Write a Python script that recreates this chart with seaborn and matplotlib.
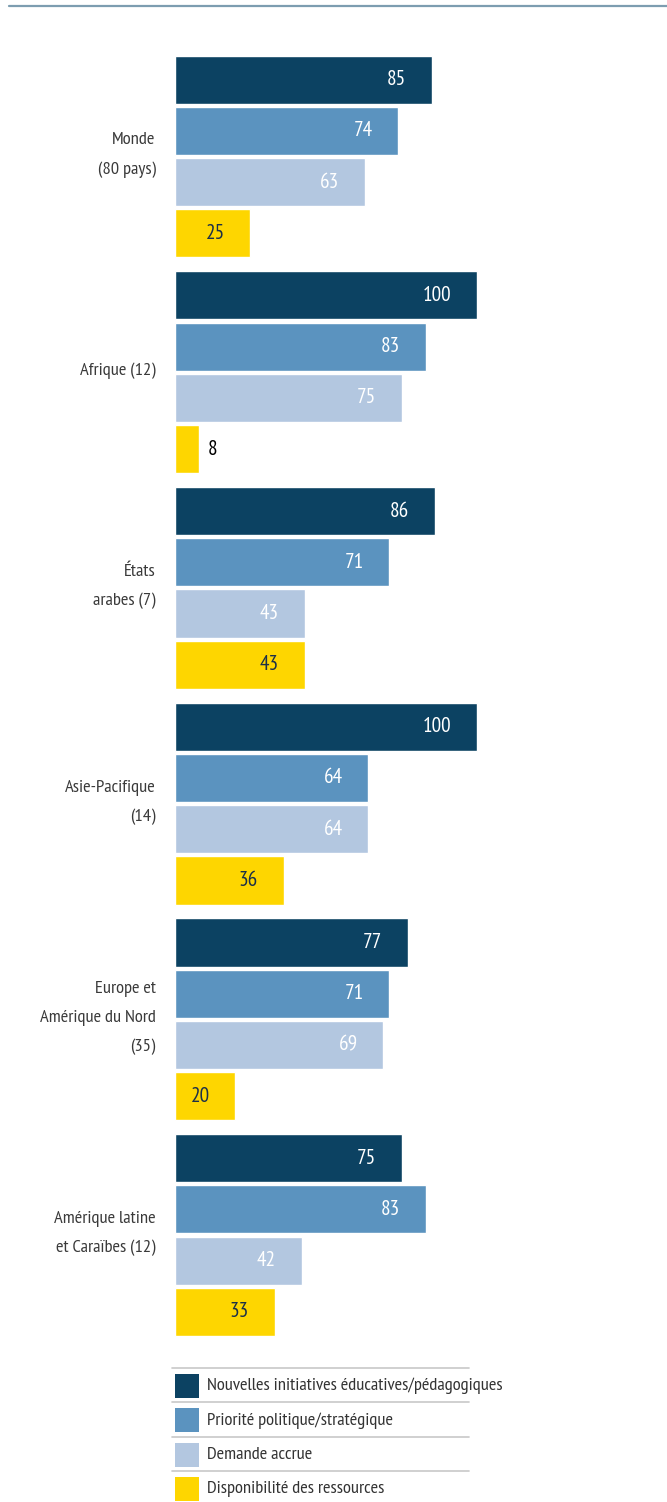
import matplotlib
matplotlib.use("Agg")
import matplotlib.pyplot as plt
from matplotlib.patches import Rectangle
from matplotlib.lines import Line2D
import numpy as np
import pandas as pd
import seaborn as sns

regions = [
    "Monde\n(80 pays)",
    "Afrique (12)",
    "États\narabes (7)",
    "Asie-Pacifique\n(14)",
    "Europe et\nAmérique du Nord\n(35)",
    "Amérique latine\net Caraïbes (12)",
]
factors = [
    "Nouvelles initiatives éducatives/pédagogiques",
    "Priorité politique/stratégique",
    "Demande accrue",
    "Disponibilité des ressources",
]
nouvelles = [85, 100, 86, 100, 77, 75]
priorite = [74, 83, 71, 64, 71, 83]
demande = [63, 75, 43, 64, 69, 42]
ressources = [25, 8, 43, 36, 20, 33]

colors = ["#0c4262", "#5b93bf", "#b3c7e0", "#fed600"]
label_colors = ["white", "white", "white", "#1c3048"]

sns.set_theme(style="white")
plt.rcParams["font.family"] = ["PT Sans Narrow", "DejaVu Sans"]
FS = 13.3      # category and legend text
FS_VAL = 15.3  # value labels on the bars

df = pd.DataFrame({
    "region": np.repeat(regions, 4),
    "factor": factors * len(regions),
    "value": np.ravel(np.column_stack([nouvelles, priorite, demande, ressources])),
})

W, H = 667, 1502
fig = plt.figure(figsize=(W / 100, H / 100), dpi=100)

# plot frame in pixels: bars start at x=175, span y 40..1350
left_px, top_px, bot_px = 175, 40, 1350
ax = fig.add_axes([left_px / W, 1 - bot_px / H, (W - left_px) / W, (bot_px - top_px) / H])

sns.barplot(data=df, y="region", x="value", hue="factor", hue_order=factors,
            order=regions, palette=colors, orient="h", width=0.95, gap=0.06,
            saturation=1, legend=False, ax=ax)

px_per_unit = 302 / 100
ax.set_xlim(0, (W - left_px) / px_per_unit)
g0, pitch = 156.5, 215.7
ax.set_ylim((bot_px - g0) / pitch, (top_px - g0) / pitch)
ax.set_xlabel("")
ax.set_ylabel("")
ax.set_xticks([])
ax.set_yticks([])
for s in ax.spines.values():
    s.set_visible(False)

# region names, right-aligned to the left of the bars
for i, name in enumerate(regions):
    ax.annotate(name, (0, i), xytext=(-14, 1), textcoords="offset points",
                ha="right", va="center", multialignment="right",
                fontsize=FS, color="#3a3a3a", linespacing=2.05)

for i, cont in enumerate(ax.containers):
    for bar in cont:
        w = bar.get_width()
        yc = bar.get_y() + bar.get_height() / 2
        if w < 12:
            ax.annotate(f"{w:.0f}", (w, yc), xytext=(6, 0), textcoords="offset points",
                        ha="left", va="center", fontsize=FS_VAL, color="black")
        else:
            ax.annotate(f"{w:.0f}", (w, yc), xytext=(-18.5, 0), textcoords="offset points",
                        ha="right", va="center", fontsize=FS_VAL, color=label_colors[i])

# top rule
fig.add_artist(Line2D([9 / W, 1], [1 - 5.5 / H, 1 - 5.5 / H], color="#7d9db0", lw=1.6))

# legend block with separators
lax = fig.add_axes([0, 0, 1, 1])
lax.set_xlim(0, W)
lax.set_ylim(H, 0)
lax.axis("off")
row_top = 1368
row_h = 34.3
for k, (name, col) in enumerate(zip(factors, colors)):
    y0 = row_top + k * row_h
    lax.plot([172, 469], [y0, y0], color="#c8c8c8", lw=1.2)
    lax.add_patch(Rectangle((175, y0 + 6), 24, 24, color=col, lw=0))
    lax.text(207, y0 + 18, name, fontsize=FS, color="#333333", va="center", ha="left")

fig.savefig("out.png", dpi=100)
